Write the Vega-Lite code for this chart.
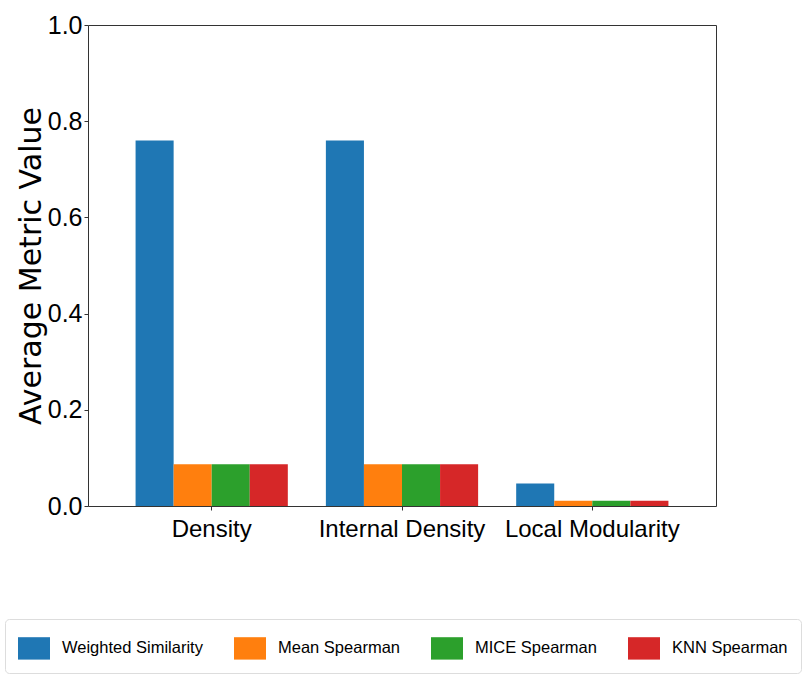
{
  "$schema": "https://vega.github.io/schema/vega-lite/v6.json",
  "autosize": "none",
  "padding": {"left": 88, "top": 25, "right": 90, "bottom": 192},
  "width": 628,
  "height": 481,
  "background": "white",
  "config": {
    "view": {"stroke": "#333", "strokeWidth": 1},
    "font": "Liberation Sans"
  },
  "data": {
    "values": [
      {"metric": "Density", "method": "Weighted Similarity", "value": 0.760},
      {"metric": "Density", "method": "Mean Spearman", "value": 0.087},
      {"metric": "Density", "method": "MICE Spearman", "value": 0.087},
      {"metric": "Density", "method": "KNN Spearman", "value": 0.087},
      {"metric": "Internal Density", "method": "Weighted Similarity", "value": 0.760},
      {"metric": "Internal Density", "method": "Mean Spearman", "value": 0.087},
      {"metric": "Internal Density", "method": "MICE Spearman", "value": 0.087},
      {"metric": "Internal Density", "method": "KNN Spearman", "value": 0.087},
      {"metric": "Local Modularity", "method": "Weighted Similarity", "value": 0.047},
      {"metric": "Local Modularity", "method": "Mean Spearman", "value": 0.011},
      {"metric": "Local Modularity", "method": "MICE Spearman", "value": 0.011},
      {"metric": "Local Modularity", "method": "KNN Spearman", "value": 0.011}
    ]
  },
  "mark": {"type": "bar"},
  "encoding": {
    "x": {
      "field": "metric",
      "type": "nominal",
      "sort": ["Density", "Internal Density", "Local Modularity"],
      "scale": {"paddingInner": 0.2, "paddingOuter": 0.25},
      "axis": {
        "title": null,
        "labelAngle": 0,
        "labelFontSize": 24,
        "labelColor": "black",
        "labelPadding": 7,
        "labelLimit": 400,
        "domain": false,
        "ticks": true,
        "tickSize": 4,
        "tickColor": "#333",
        "grid": false
      }
    },
    "xOffset": {
      "field": "method",
      "type": "nominal",
      "sort": ["Weighted Similarity", "Mean Spearman", "MICE Spearman", "KNN Spearman"],
      "scale": {"paddingInner": 0, "paddingOuter": 0}
    },
    "y": {
      "field": "value",
      "type": "quantitative",
      "scale": {"domain": [0, 1], "nice": false, "zero": true},
      "axis": {
        "title": "Average Metric Value",
        "titleFont": "DejaVu Sans",
        "titleFontSize": 30,
        "titleFontWeight": "normal",
        "titleColor": "black",
        "titlePadding": 1,
        "values": [0, 0.2, 0.4, 0.6, 0.8, 1.0],
        "format": ".1f",
        "labelFontSize": 25,
        "labelColor": "black",
        "labelPadding": 2,
        "domain": false,
        "ticks": true,
        "tickSize": 4,
        "tickColor": "#333",
        "grid": false
      }
    },
    "color": {
      "field": "method",
      "type": "nominal",
      "sort": ["Weighted Similarity", "Mean Spearman", "MICE Spearman", "KNN Spearman"],
      "scale": {
        "domain": ["Weighted Similarity", "Mean Spearman", "MICE Spearman", "KNN Spearman"],
        "range": ["#1f77b4", "#ff7f0e", "#2ca02c", "#d62728"]
      },
      "legend": {
        "title": null,
        "orient": "none",
        "legendX": -83,
        "legendY": 594,
        "direction": "horizontal",
        "columns": 4,
        "columnPadding": 31,
        "padding": 13,
        "strokeColor": "#ddd",
        "fillColor": "white",
        "cornerRadius": 4,
        "symbolType": "M-1,-0.7L1,-0.7L1,0.7L-1,0.7Z",
        "symbolSize": 1024,
        "symbolStrokeWidth": 0,
        "symbolOpacity": 1,
        "labelFontSize": 16.5,
        "labelColor": "black",
        "labelOffset": 12,
        "labelLimit": 300
      }
    }
  }
}
